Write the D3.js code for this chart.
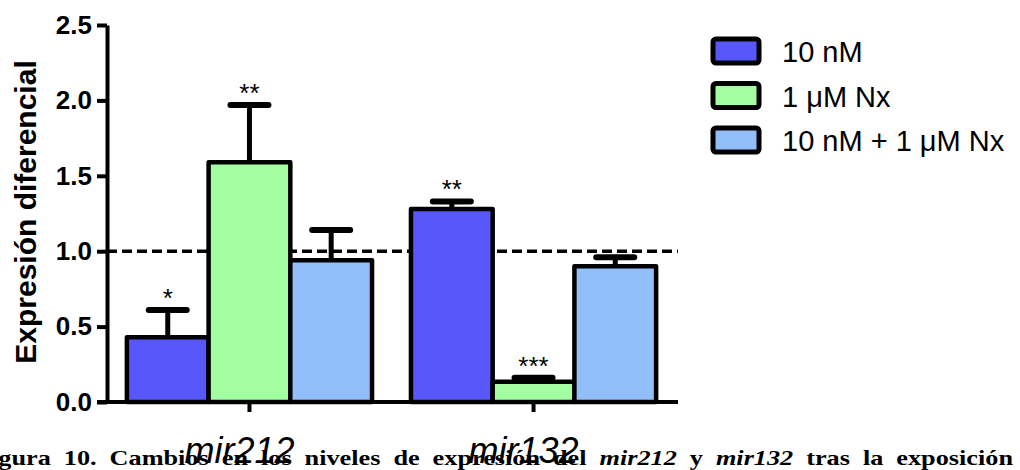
<!DOCTYPE html>
<html lang="en">
<head>
    <meta charset="UTF-8">
    <title></title>
    <style type="text/css">
        body { margin:0; background:#fff }
        svg { display:block }
        .axis text { font-family:"Liberation Sans", Arial, sans-serif; font-weight:bold; font-size:26px; fill:#000 }
        .axis path, .axis line { stroke:#000; stroke-width:4 }
    </style>
</head>
<body>
<script src="https://d3js.org/d3.v7.min.js"></script>
<script>
    var groups = ['mir212', 'mir132'];
    var series = ['10 nM', '1 \u03bcM Nx', '10 nM + 1 \u03bcM Nx'];
    var colors = ['#5858fa', '#a2fea0', '#92befa'];
    var means = {
        mir212: [0.43, 1.59, 0.94],
        mir132: [1.28, 0.135, 0.90]
    };
    var sems = {
        mir212: [0.18, 0.38, 0.20],
        mir132: [0.05, 0.025, 0.06]
    };
    var stars = {
        mir212: ['*', '**', ''],
        mir132: ['**', '***', '']
    };
    var yTicks = [0, 0.5, 1.0, 1.5, 2.0, 2.5];
    var refLine = 1.0;

    var width = 1020,
        height = 470,
        svg = d3.select('body').append('svg')
                .attr('width', width)
                .attr('height', height);

    var yScale = d3.scaleLinear().domain([0, 2.5]).range([402, 25]);
    var x0 = d3.scaleBand().domain(groups).range([107, 676])
               .paddingInner(0.137).paddingOuter(0.07);
    var x1 = d3.scaleBand().domain(d3.range(series.length)).range([0, x0.bandwidth()]);

    // reference line behind the bars
    svg.append('line')
        .attr('x1', 107).attr('x2', 678)
        .attr('y1', yScale(refLine)).attr('y2', yScale(refLine))
        .attr('stroke', '#000')
        .attr('stroke-width', 3.5)
        .attr('stroke-dasharray', '10,5');

    var rows = [];
    groups.forEach(function(g){
        means[g].forEach(function(m, i){
            rows.push({g: g, i: i, mean: m, sem: sems[g][i], star: stars[g][i]});
        });
    });

    var bx = function(d){ return x0(d.g) + x1(d.i); };
    var cx = function(d){ return bx(d) + x1.bandwidth() / 2; };

    // error bars (upper only)
    svg.selectAll('line.err')
        .data(rows).enter().append('line')
        .attr('class', 'err')
        .attr('x1', cx).attr('x2', cx)
        .attr('y1', function(d){ return yScale(d.mean); })
        .attr('y2', function(d){ return yScale(d.mean + d.sem); })
        .attr('stroke', '#000').attr('stroke-width', 5);

    svg.selectAll('line.cap')
        .data(rows).enter().append('line')
        .attr('class', 'cap')
        .attr('x1', function(d){ return cx(d) - 19; })
        .attr('x2', function(d){ return cx(d) + 19; })
        .attr('y1', function(d){ return yScale(d.mean + d.sem); })
        .attr('y2', function(d){ return yScale(d.mean + d.sem); })
        .attr('stroke', '#000').attr('stroke-width', 6)
        .attr('stroke-linecap', 'round');

    svg.selectAll('rect.bar')
        .data(rows).enter().append('rect')
        .attr('class', 'bar')
        .attr('x', bx)
        .attr('y', function(d){ return yScale(d.mean); })
        .attr('width', x1.bandwidth())
        .attr('height', function(d){ return yScale(0) - yScale(d.mean); })
        .attr('fill', function(d){ return colors[d.i]; })
        .attr('stroke', '#000')
        .attr('stroke-width', 4.5)
        .attr('stroke-linejoin', 'round');

    svg.selectAll('text.star')
        .data(rows.filter(function(d){ return d.star; })).enter().append('text')
        .attr('class', 'star')
        .attr('x', cx)
        .attr('y', function(d){ return yScale(d.mean + d.sem) - 3; })
        .attr('text-anchor', 'middle')
        .style('font-family', '"Liberation Sans", Arial, sans-serif')
        .style('font-size', '26px')
        .text(function(d){ return d.star; });

    // axes
    var yAxis = d3.axisLeft(yScale).tickValues(yTicks)
        .tickFormat(d3.format('.1f')).tickSize(10).tickSizeOuter(0).tickPadding(5);
    svg.append('g').attr('class', 'axis y')
        .attr('transform', 'translate(107,0)')
        .call(yAxis);

    var xAxis = d3.axisBottom(x0).tickSize(10).tickFormat('');
    var gx = svg.append('g').attr('class', 'axis x')
        .attr('transform', 'translate(0,' + yScale(0) + ')')
        .call(xAxis);
    gx.select('.domain').attr('d', 'M97,0H678');

    svg.selectAll('text.glabel')
        .data(groups).enter().append('text')
        .attr('class', 'glabel')
        .attr('x', function(g){ return x0(g) + x0.bandwidth() / 2 - 10; })
        .attr('y', 463)
        .attr('text-anchor', 'middle')
        .style('font-family', '"Liberation Sans", Arial, sans-serif')
        .style('font-style', 'italic')
        .style('font-size', '36px')
        .text(function(g){ return g; });

    svg.append('text')
        .attr('transform', 'translate(36,' + 212 + ') rotate(-90)')
        .attr('text-anchor', 'middle')
        .style('font-family', '"Liberation Sans", Arial, sans-serif')
        .style('font-weight', 'bold')
        .style('font-size', '30px')
        .text('Expresi\u00f3n diferencial');

    // legend
    var legend = svg.selectAll('g.legend')
        .data(series).enter().append('g')
        .attr('class', 'legend')
        .attr('transform', function(d, i){ return 'translate(713,' + (62 + i * 44.5) + ')'; });
    legend.append('rect')
        .attr('x', 0).attr('y', -23)
        .attr('width', 46).attr('height', 24)
        .attr('rx', 3)
        .attr('fill', function(d, i){ return colors[i]; })
        .attr('stroke', '#000').attr('stroke-width', 5);
    legend.append('text')
        .attr('x', 69).attr('y', 0)
        .style('font-family', '"Liberation Sans", Arial, sans-serif')
        .style('font-size', '29px')
        .text(function(d){ return d; });

    // figure caption, cut at the page edge
    var capParts = [
        ['Figura 10. Cambios en los niveles de expresi\u00f3n del ', false],
        ['mir212', true], [' y ', false], ['mir132', true],
        [' tras la exposici\u00f3n', false]
    ];
    var sx = 1.25, capLeft = -25, capRight = 1013;
    var cap = svg.append('text')
        .attr('transform', 'translate(' + capLeft + ',465) scale(' + sx + ',1)')
        .style('font-family', '"Liberation Serif", "Times New Roman", serif')
        .style('font-weight', 'bold')
        .style('font-size', '21px');
    cap.selectAll('tspan').data(capParts).enter().append('tspan')
        .style('font-style', function(d){ return d[1] ? 'italic' : 'normal'; })
        .text(function(d){ return d[0]; });
    var natural = cap.node().getComputedTextLength();
    var nSpaces = capParts.map(function(d){ return d[0]; }).join('').split(' ').length - 1;
    cap.style('word-spacing', (((capRight - capLeft) / sx - natural) / nSpaces) + 'px');
</script>
</body>
</html>
